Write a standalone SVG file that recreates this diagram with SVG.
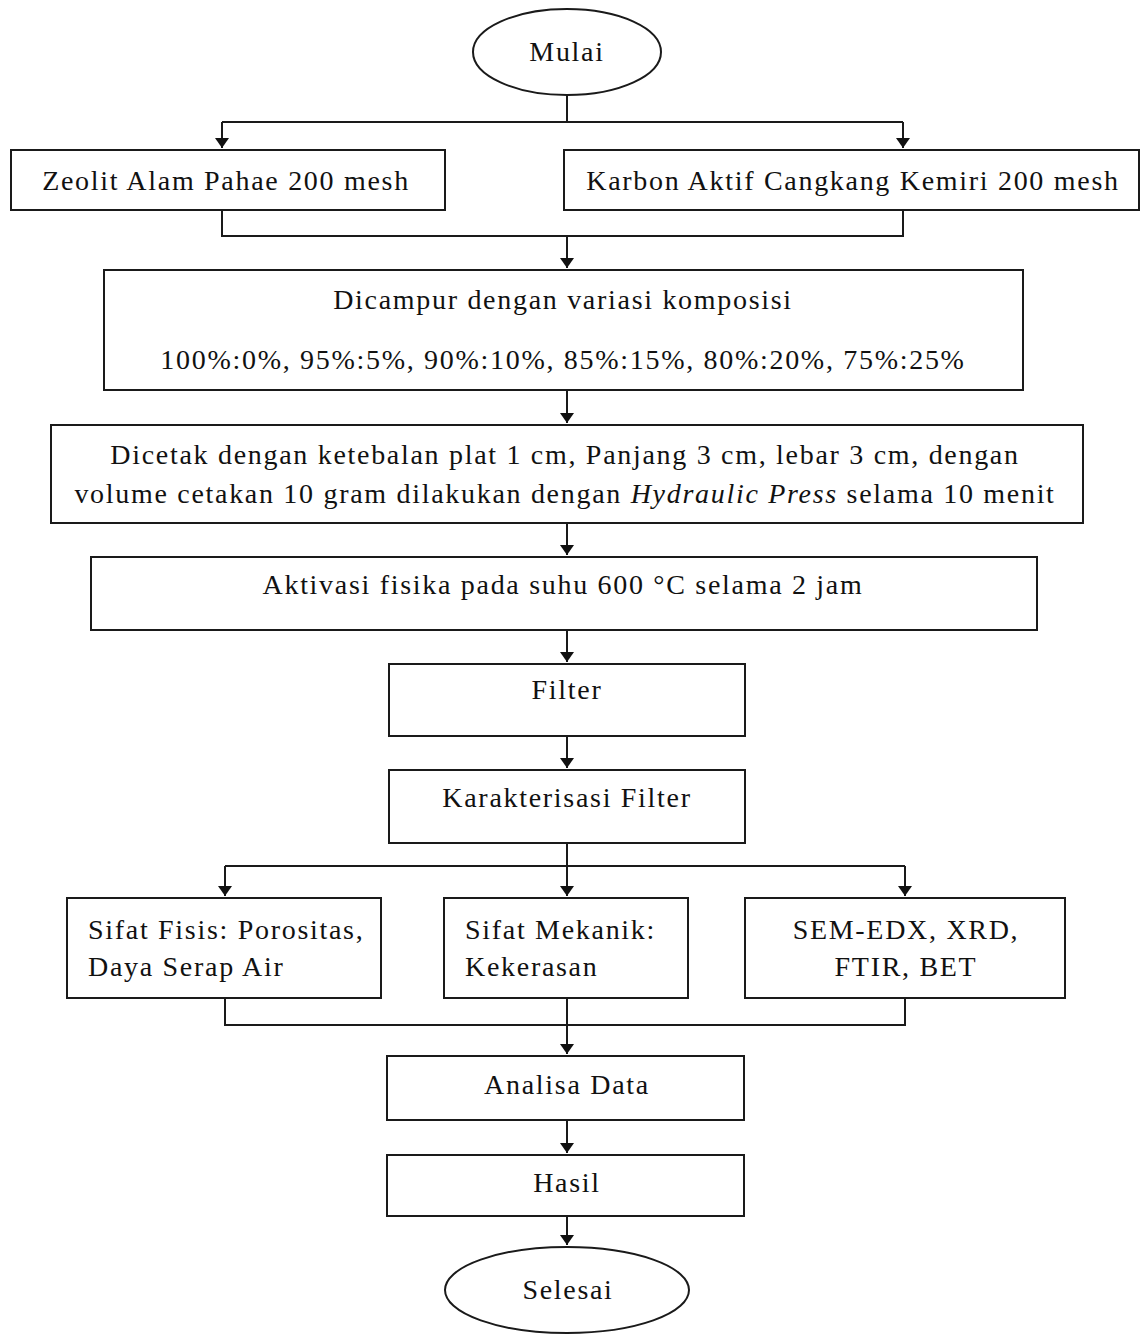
<svg xmlns="http://www.w3.org/2000/svg" width="1140" height="1334" viewBox="0 0 1140 1334">
<style>
.b{fill:#fff;stroke:#1a1a1a;stroke-width:2}
.t{font-family:"Liberation Serif","Times New Roman",serif;font-size:28px;letter-spacing:1.7px;fill:#111}
.c{stroke:#1a1a1a;stroke-width:2;fill:none}
</style>
<defs>
<marker id="a" viewBox="0 0 10 14" refX="10" refY="7" markerWidth="10" markerHeight="14" markerUnits="userSpaceOnUse" orient="auto">
<path d="M0,7 L10,0 L10,14 Z" transform="rotate(180 5 7)" fill="#111"/>
</marker>
</defs>
<rect width="1140" height="1334" fill="#fff"/>
<g id="connectors">
<path class="c" d="M567,95 V122 M222,122 H903"/>
<path class="c" d="M222,122 V148" marker-end="url(#a)"/>
<path class="c" d="M903,122 V148" marker-end="url(#a)"/>
<path class="c" d="M222,210 V236 H903 V210"/>
<path class="c" d="M567,236 V268" marker-end="url(#a)"/>
<path class="c" d="M567,390 V423" marker-end="url(#a)"/>
<path class="c" d="M567,523 V555" marker-end="url(#a)"/>
<path class="c" d="M567,630 V662" marker-end="url(#a)"/>
<path class="c" d="M567,736 V768" marker-end="url(#a)"/>
<path class="c" d="M567,843 V866 M225,866 H905"/>
<path class="c" d="M225,866 V896" marker-end="url(#a)"/>
<path class="c" d="M567,866 V896" marker-end="url(#a)"/>
<path class="c" d="M905,866 V896" marker-end="url(#a)"/>
<path class="c" d="M225,998 V1025 H905 V998"/>
<path class="c" d="M567,998 V1054" marker-end="url(#a)"/>
<path class="c" d="M567,1120 V1153" marker-end="url(#a)"/>
<path class="c" d="M567,1216 V1245" marker-end="url(#a)"/>
</g>
<g id="mulai"><ellipse class="b" cx="567" cy="52" rx="94" ry="43"/><text class="t" x="567" y="61" text-anchor="middle">Mulai</text></g>
<g id="zeolit"><rect class="b" x="11" y="150" width="434" height="60"/><text class="t" x="226" y="190" text-anchor="middle">Zeolit Alam Pahae 200 mesh</text></g>
<g id="karbon"><rect class="b" x="564" y="150" width="575" height="60"/><text class="t" x="853" y="190" text-anchor="middle">Karbon Aktif Cangkang Kemiri 200 mesh</text></g>
<g id="dicampur"><rect class="b" x="104" y="270" width="919" height="120"/><text class="t" x="563" y="309" text-anchor="middle">Dicampur dengan variasi komposisi</text><text class="t" x="563" y="369" text-anchor="middle">100%:0%, 95%:5%, 90%:10%, 85%:15%, 80%:20%, 75%:25%</text></g>
<g id="dicetak"><rect class="b" x="51" y="425" width="1032" height="98"/><text class="t" x="565" y="464" text-anchor="middle">Dicetak dengan ketebalan plat 1 cm, Panjang 3 cm, lebar 3 cm, dengan</text><text class="t" x="565" y="503" text-anchor="middle">volume cetakan 10 gram dilakukan dengan <tspan font-style="italic">Hydraulic Press</tspan> selama 10 menit</text></g>
<g id="aktivasi"><rect class="b" x="91" y="557" width="946" height="73"/><text class="t" x="563" y="594" text-anchor="middle">Aktivasi fisika pada suhu 600 °C selama 2 jam</text></g>
<g id="filter"><rect class="b" x="389" y="664" width="356" height="72"/><text class="t" x="567" y="699" text-anchor="middle">Filter</text></g>
<g id="karakterisasi"><rect class="b" x="389" y="770" width="356" height="73"/><text class="t" x="567" y="807" text-anchor="middle">Karakterisasi Filter</text></g>
<g id="fisis"><rect class="b" x="67" y="898" width="314" height="100"/><text class="t" x="88" y="939">Sifat Fisis: Porositas,</text><text class="t" x="88" y="976">Daya Serap Air</text></g>
<g id="mekanik"><rect class="b" x="444" y="898" width="244" height="100"/><text class="t" x="465" y="939">Sifat Mekanik:</text><text class="t" x="465" y="976">Kekerasan</text></g>
<g id="sem"><rect class="b" x="745" y="898" width="320" height="100"/><text class="t" x="906" y="939" text-anchor="middle">SEM-EDX, XRD,</text><text class="t" x="906" y="976" text-anchor="middle">FTIR, BET</text></g>
<g id="analisa"><rect class="b" x="387" y="1056" width="357" height="64"/><text class="t" x="567" y="1094" text-anchor="middle">Analisa Data</text></g>
<g id="hasil"><rect class="b" x="387" y="1155" width="357" height="61"/><text class="t" x="567" y="1192" text-anchor="middle">Hasil</text></g>
<g id="selesai"><ellipse class="b" cx="567" cy="1290" rx="122" ry="43"/><text class="t" x="568" y="1299" text-anchor="middle">Selesai</text></g>
</svg>
